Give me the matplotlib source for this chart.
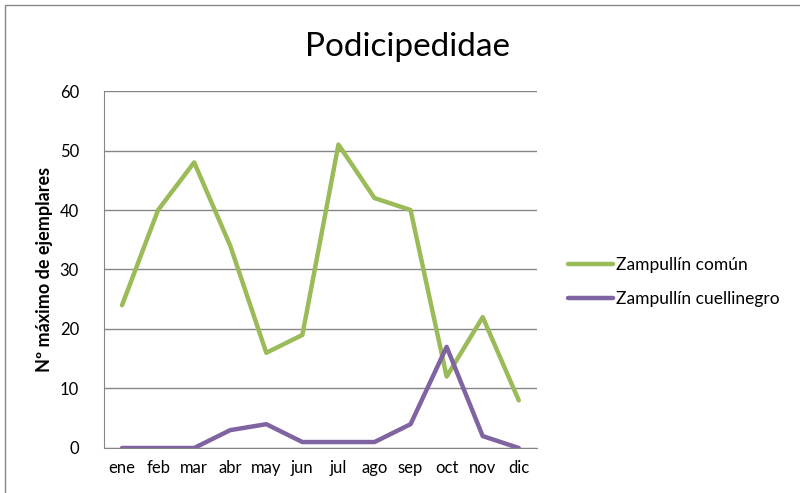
import matplotlib
matplotlib.use("Agg")
import matplotlib.pyplot as plt
from matplotlib.patches import Rectangle

# datos
meses = ["ene", "feb", "mar", "abr", "may", "jun", "jul", "ago", "sep", "oct", "nov", "dic"]
comun = [24, 40, 48, 34, 16, 19, 51, 42, 40, 12, 22, 8]
cuellinegro = [0, 0, 0, 3, 4, 1, 1, 1, 4, 17, 2, 0]

plt.rcParams["font.family"] = ["Lato", "DejaVu Sans"]

fig = plt.figure(figsize=(8, 4.93), dpi=100)
ax = fig.add_axes([0.13, 0.0913, 0.541, 0.7241])

x = list(range(len(meses)))
ax.plot(x, comun, color="#9BBB59", lw=3.2, label="Zampullín común", solid_capstyle="round")
ax.plot(x, cuellinegro, color="#8064A2", lw=3.2, label="Zampullín cuellinegro", solid_capstyle="round")

ax.set_xlim(-0.5, 11.5)
ax.set_ylim(0, 60)
ax.set_yticks(range(0, 61, 10))
ax.set_xticks(x)
ax.set_xticklabels(meses)
ax.tick_params(axis="both", length=0, labelsize=12)
ax.tick_params(axis="y", pad=18)
ax.tick_params(axis="x", pad=9)
ax.grid(axis="y", color="#868686", lw=1)
ax.set_axisbelow(True)
for s in ["top", "right"]:
    ax.spines[s].set_visible(False)
ax.spines["left"].set_color("#868686")
ax.spines["bottom"].set_color("#868686")

ax.set_ylabel("Nº máximo de ejemplares", fontsize=13, fontweight="bold", labelpad=5)
fig.text(0.51, 0.905, "Podicipedidae", fontsize=24, ha="center", va="center")

ax.legend(loc="center left", bbox_to_anchor=(1.035, 0.465), frameon=False,
          fontsize=12.5, handlelength=2.6, handletextpad=0.2, labelspacing=1.0)

# marco exterior
fig.patches.append(Rectangle((5 / 800, -0.1), 1.2, 1.1 - 5 / 493, transform=fig.transFigure,
                             fill=False, edgecolor="#868686", lw=1))

fig.savefig("out.png", dpi=100)
